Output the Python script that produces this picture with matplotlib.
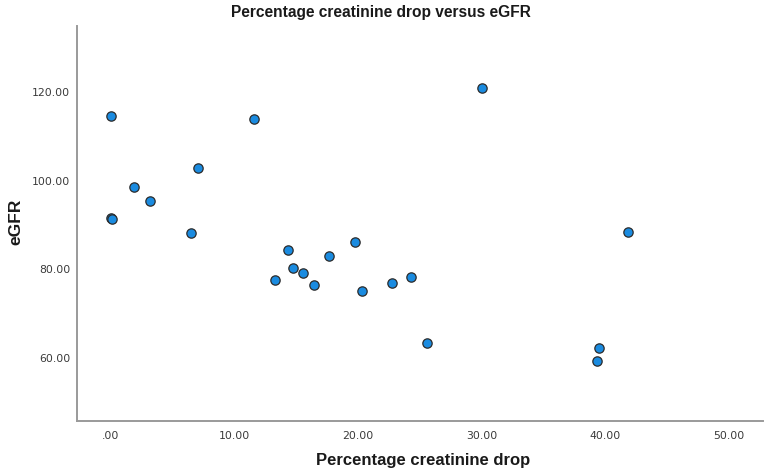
import matplotlib
matplotlib.use("Agg")
import matplotlib.pyplot as plt
from matplotlib.ticker import FuncFormatter, FixedLocator

creat_drop = [0.0, 11.57, 7.04, 1.86, 3.16, 0.0, 0.05, 6.47, 13.24, 14.32, 14.72, 15.5,
              16.45, 17.67, 19.74, 20.28, 22.71, 24.3, 25.6, 39.5, 39.3, 41.8, 30.04]
egfr = [114.6, 113.9, 102.9, 98.6, 95.4, 91.6, 91.3, 88.3, 77.6, 84.3, 80.4, 79.2,
        76.5, 83.1, 86.1, 75.1, 76.9, 78.3, 63.4, 62.3, 59.4, 88.5, 120.8]
x_ticks = [0, 10, 20, 30, 40, 50]
y_ticks = [60, 80, 100, 120]

W, H = 769, 474
fig = plt.figure(figsize=(W / 100, H / 100), dpi=100)
ax = fig.add_axes([0.1005, 0.112, 0.8915, 0.833])

ax.scatter(creat_drop, egfr, s=45, c="#1a8be0", edgecolors="#2b2b2b", linewidths=0.9, zorder=3)

ax.set_xlim(-2.73, 52.75)
ax.set_ylim(45.9, 134.8)
ax.xaxis.set_major_locator(FixedLocator(x_ticks))
ax.yaxis.set_major_locator(FixedLocator(y_ticks))

def fmt(v, pos):
    s = f"{v:.2f}"
    if s.startswith("0."):
        s = s[1:]
    return s

ax.xaxis.set_major_formatter(FuncFormatter(fmt))
ax.yaxis.set_major_formatter(FuncFormatter(fmt))
ax.tick_params(axis="x", length=0, labelsize=7.8, labelcolor="#3a3a3a", pad=7)
ax.tick_params(axis="y", length=0, labelsize=7.8, labelcolor="#3a3a3a", pad=5)

for side in ["top", "right"]:
    ax.spines[side].set_visible(False)
for side in ["left", "bottom"]:
    ax.spines[side].set_color("#9a9a9a")
    ax.spines[side].set_linewidth(1.4)

lab = dict(fontweight="bold", color="#1a1a1a", family=["Liberation Sans", "DejaVu Sans"])
fig.text(381 / W, 1 - 13 / H, "Percentage creatinine drop versus eGFR", fontsize=11.2,
         ha="center", va="center", **lab)
fig.text(423 / W, 1 - 461 / H, "Percentage creatinine drop", fontsize=12,
         ha="center", va="center", **lab)
fig.text(16 / W, 1 - 222 / H, "eGFR", fontsize=12.5, rotation=90,
         ha="center", va="center", **lab)

fig.savefig("out.png", dpi=100)
